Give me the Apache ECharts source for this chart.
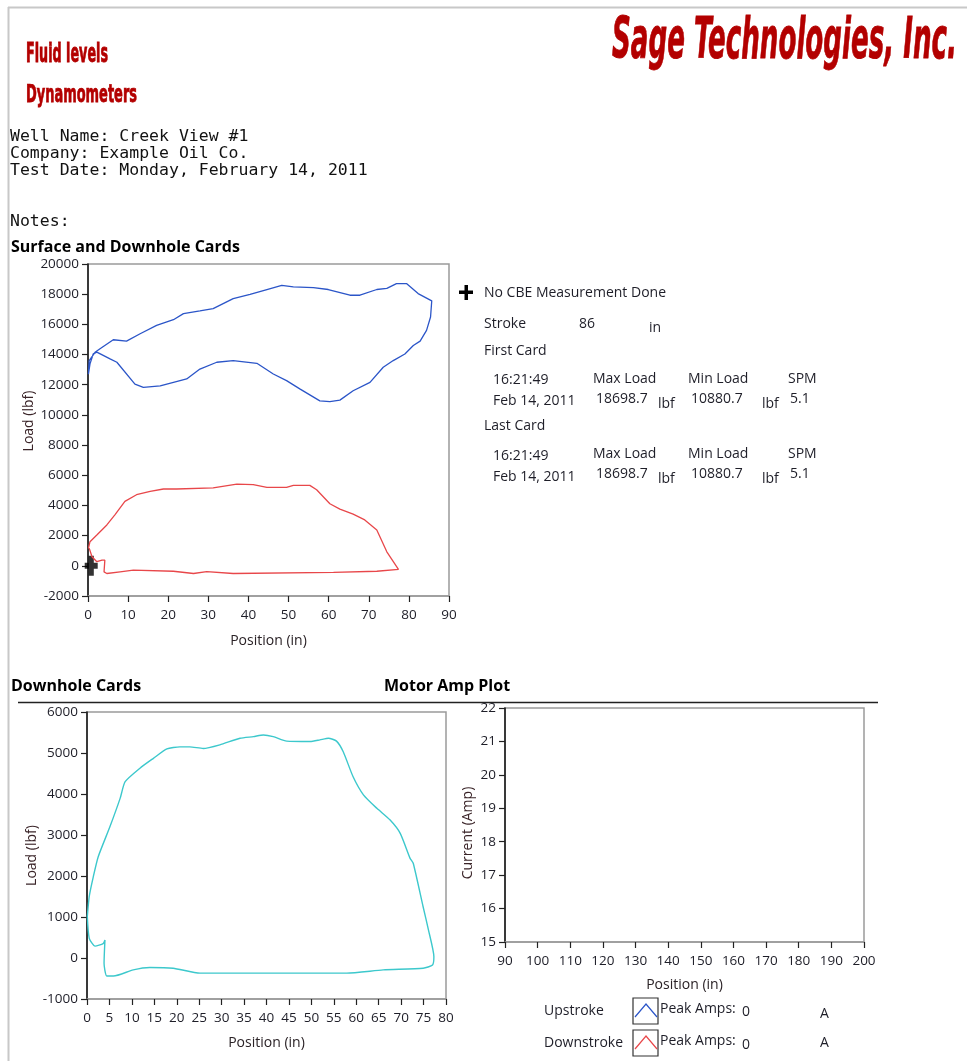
<!DOCTYPE html>
<html><head><meta charset="utf-8">
<script src="https://cdn.jsdelivr.net/npm/echarts@6/dist/echarts.min.js"></script>
<style>html,body{margin:0;padding:0;background:#fff}#c{width:967px;height:1061px}</style>
</head><body><div id="c"></div>
<script>
// ---------- data ----------
const surfaceCard = [[0.1,12700],[0.3,13600],[1.75,14150],[3.0,14380],[6.3,14980],[9.6,14890],[13.0,15380],[17.1,15930],[21.3,16310],[23.8,16710],[27.9,16890],[31.2,17040],[36.2,17710],[40.4,17980],[44.6,18310],[48.3,18580],[51.2,18490],[56.2,18440],[59.9,18310],[65.3,17930],[67.8,17930],[72.0,18310],[74.5,18380],[76.9,18700],[79.4,18700],[82.3,18040],[85.7,17560],[86.1,17640],[85.4,16490],[84.4,15600],[82.8,14890],[81.1,14600],[79.0,14040],[76.1,13600],[73.6,13160],[70.3,12160],[66.1,11600],[62.8,10980],[60.3,10880],[57.8,10930],[52.9,11710],[49.5,12270],[46.2,12710],[42.1,13420],[36.2,13600],[32.1,13490],[27.9,13040],[24.6,12380],[21.3,12160],[18.0,11930],[13.8,11820],[11.7,12040],[7.2,13490],[5.5,13710],[2.2,14160],[1.3,14040],[0.5,13380],[0.1,12700]];
const downholeCardTop = [[0.1,1160],[0.5,1600],[2.2,2040],[4.7,2710],[6.7,3380],[9.2,4270],[12.1,4710],[15.5,4930],[18.8,5090],[22.1,5090],[31.2,5160],[37.1,5420],[41.2,5380],[44.6,5200],[49.5,5200],[51.2,5330],[55.3,5330],[57.0,5040],[60.3,4110],[62.8,3760],[66.1,3420],[69.0,3040],[72.0,2380],[74.5,930],[77.4,-240],[72.0,-360],[61.2,-440],[36.2,-510],[29.6,-380],[26.3,-510],[21.3,-360],[11.3,-290],[8.0,-400],[4.7,-510],[4.0,-400],[4.2,380],[3.5,380],[2.2,270],[1.0,600],[0.3,1160]];
const cbeMarker = [[0.8, 0]];
const downholeCard = [[0.07,1010],[0.5,1500],[1.4,1980],[2.5,2470],[5.1,3200],[7.4,3900],[8.5,4300],[11.8,4630],[14.8,4870],[17.8,5100],[20.7,5150],[22.9,5150],[25.9,5110],[29.6,5200],[34.1,5360],[37.1,5400],[39.3,5440],[41.5,5400],[44.5,5290],[49.7,5280],[51.9,5320],[53.8,5360],[55.6,5290],[57.1,5030],[59.3,4420],[61.6,3980],[64.6,3650],[67.5,3370],[69.8,3040],[72.0,2430],[72.7,2310],[74.9,1250],[76.1,680],[77.3,30],[77.0,-170],[74.9,-250],[66.0,-290],[57.9,-370],[32.6,-370],[25.2,-370],[19.2,-250],[14.0,-230],[10.3,-290],[5.9,-440],[4.4,-440],[3.8,-130],[4.0,440],[3.6,350],[1.8,290],[0.5,480],[0.07,1010]];
const upstrokeAmps = [];
const downstrokeAmps = [];
const surfaceAxisX = [0, 90, 10];
const surfaceAxisY = [-2000, 20000, 2000];
const downholeAxisX = [0, 80, 5];
const downholeAxisY = [-1000, 6000, 1000];
const ampAxisX = [90, 200, 10];
const ampAxisY = [15, 22, 1];
const headerLines = ['Well Name: Creek View #1', 'Company: Example Oil Co.', 'Test Date: Monday, February 14, 2011'];

// ---------- helpers ----------
const FONT = "'Open Sans', 'Noto Sans', sans-serif";
const TXT = '#1e1e28';
const cv = document.createElement('canvas').getContext('2d');
function measure(text, font) { cv.font = font; return cv.measureText(text).width; }
function fitText(text, size, x, yCenter, targetW, capH, color, italic) {
  const f = (italic ? 'italic ' : '') + 'bold ' + size + "px 'Liberation Sans Narrow', 'DejaVu Sans Condensed', 'Liberation Sans', sans-serif";
  const w = measure(text, f);
  return { type: 'text', x: x, y: yCenter, scaleX: targetW / w, scaleY: capH / (0.72 * size),
    style: { text: text, font: f, fill: color, textAlign: 'left', textVerticalAlign: 'middle', stroke: color, lineWidth: 0.6 } };
}
function t(text, x, y, opts) {
  opts = opts || {};
  return { type: 'text', x: x, y: y, style: Object.assign({ text: text, fontFamily: FONT, fontSize: 14, fill: TXT, textAlign: 'left', textVerticalAlign: 'middle' }, opts) };
}
const plain = v => String(v);
function axisX(gi, r, name, gap) {
  return { type: 'value', gridIndex: gi, min: r[0], max: r[1], interval: r[2],
    name: name, nameLocation: 'middle', nameGap: gap,
    nameTextStyle: { fontFamily: FONT, fontSize: 14, color: '#2a2226' },
    axisLine: { show: true, onZero: false, lineStyle: { color: '#9a9a9a', width: 1.5 } },
    axisTick: { show: true, length: 6, lineStyle: { color: '#222', width: 1.2 } },
    axisLabel: { fontFamily: FONT, fontSize: 13.5, color: TXT, margin: 12, formatter: plain },
    splitLine: { show: false } };
}
function axisY(gi, r, name, gap, pad) {
  return { type: 'value', gridIndex: gi, min: r[0], max: r[1], interval: r[2],
    name: name, nameLocation: 'middle', nameGap: gap, nameRotate: 90,
    nameTextStyle: { fontFamily: FONT, fontSize: 14, color: '#3a2428', padding: pad || 0 },
    axisLine: { show: true, onZero: false, lineStyle: { color: '#111', width: 1.5 } },
    axisTick: { show: true, length: 6, lineStyle: { color: '#222', width: 1.2 } },
    axisLabel: { fontFamily: FONT, fontSize: 13.5, color: TXT, margin: 9, formatter: plain },
    splitLine: { show: false } };
}

const graphics = [
  { type: 'line', shape: { x1: 8, y1: 7.5, x2: 967, y2: 7.5 }, style: { stroke: '#c8c8c8', lineWidth: 2 } },
  { type: 'line', shape: { x1: 8.5, y1: 7, x2: 8.5, y2: 1061 }, style: { stroke: '#c8c8c8', lineWidth: 2 } },
  fitText('Fluid levels', 20, 26, 55, 82, 19, '#b30000', false),
  fitText('Dynamometers', 20, 26, 95, 111, 18, '#b30000', false),
  fitText('Sage Technologies, Inc.', 40, 612, 43, 345, 41, '#b30000', true),
  t('Surface and Downhole Cards', 11, 247, { fontWeight: 'bold', fontSize: 16, fill: '#000' }),
  t('Downhole Cards', 11, 686, { fontWeight: 'bold', fontSize: 16, fill: '#000' }),
  t('Motor Amp Plot', 384, 686, { fontWeight: 'bold', fontSize: 16, fill: '#000' }),
  { type: 'line', shape: { x1: 18, y1: 702.5, x2: 878, y2: 702.5 }, style: { stroke: '#222', lineWidth: 1.5 } },
  t('Notes:', 10, 222, { fontFamily: "'DejaVu Sans Mono', monospace", fontSize: 16.5, fill: '#111' }),
  // info panel
  { type: 'rect', shape: { x: 459, y: 290.5, width: 14, height: 3.5 }, style: { fill: '#000' } },
  { type: 'rect', shape: { x: 464.5, y: 285, width: 3.5, height: 15 }, style: { fill: '#000' } },
  t('No CBE Measurement Done', 484, 293),
  t('Stroke', 484, 324), t('86', 579, 324), t('in', 649, 328),
  t('First Card', 484, 351),
  t('16:21:49', 493, 380), t('Feb 14, 2011', 493, 401),
  t('Max Load', 593, 379), t('18698.7', 596, 399), t('lbf', 658, 404),
  t('Min Load', 688, 379), t('10880.7', 691, 399), t('lbf', 762, 404),
  t('SPM', 788, 379), t('5.1', 790, 399),
  t('Last Card', 484, 426),
  t('16:21:49', 493, 456), t('Feb 14, 2011', 493, 477),
  t('Max Load', 593, 454), t('18698.7', 596, 474), t('lbf', 658, 479),
  t('Min Load', 688, 454), t('10880.7', 691, 474), t('lbf', 762, 479),
  t('SPM', 788, 454), t('5.1', 790, 474),
  // legend
  t('Upstroke', 544, 1011), t('Downstroke', 544, 1043),
  { type: 'rect', shape: { x: 633, y: 998, width: 25, height: 26 }, style: { fill: 'none', stroke: '#333', lineWidth: 1.2 } },
  { type: 'polyline', shape: { points: [[635, 1017], [646, 1004], [657, 1017]] }, style: { stroke: '#2b55c8', lineWidth: 1.2, fill: 'none' } },
  { type: 'rect', shape: { x: 633, y: 1030, width: 25, height: 26 }, style: { fill: 'none', stroke: '#333', lineWidth: 1.2 } },
  { type: 'polyline', shape: { points: [[635, 1049], [646, 1036], [657, 1049]] }, style: { stroke: '#e8474a', lineWidth: 1.2, fill: 'none' } },
  t('Peak Amps:', 660, 1009), t('0', 742, 1012), t('A', 820, 1014),
  t('Peak Amps:', 660, 1041), t('0', 742, 1045), t('A', 820, 1043)
];
headerLines.forEach((s, i) => graphics.push(t(s, 10, 137 + i * 17, { fontFamily: "'DejaVu Sans Mono', monospace", fontSize: 16.5, fill: '#111' })));

const chart = echarts.init(document.getElementById('c'), null, { renderer: 'canvas' });
chart.setOption({
  backgroundColor: '#fff',
  animation: false,
  grid: [
    { left: 88, top: 264, width: 361, height: 332, show: true, borderColor: '#9a9a9a', borderWidth: 1.5, backgroundColor: '#fff', outerBoundsMode: 'none' },
    { left: 87, top: 712, width: 359, height: 287, show: true, borderColor: '#9a9a9a', borderWidth: 1.5, backgroundColor: '#fff', outerBoundsMode: 'none' },
    { left: 505, top: 708, width: 359, height: 234, show: true, borderColor: '#9a9a9a', borderWidth: 1.5, backgroundColor: '#fff', outerBoundsMode: 'none' }
  ],
  xAxis: [
    axisX(0, surfaceAxisX, 'Position (in)', 38),
    axisX(1, downholeAxisX, 'Position (in)', 37),
    axisX(2, ampAxisX, 'Position (in)', 36)
  ],
  yAxis: [
    axisY(0, surfaceAxisY, 'Load (lbf)', 52, [0, 0, 0, 18]),
    axisY(1, downholeAxisY, 'Load (lbf)', 45),
    axisY(2, ampAxisY, 'Current (Amp)', 30, [0, 16, 0, 0])
  ],
  graphic: graphics,
  series: [
    { type: 'line', xAxisIndex: 0, yAxisIndex: 0, data: surfaceCard, showSymbol: false, lineStyle: { color: '#2b55c8', width: 1.3 }, silent: true },
    { type: 'line', xAxisIndex: 0, yAxisIndex: 0, data: downholeCardTop, showSymbol: false, lineStyle: { color: '#e8474a', width: 1.3 }, silent: true },
    { type: 'scatter', xAxisIndex: 0, yAxisIndex: 0, data: cbeMarker, symbol: 'path://M3,0 H7 V3.5 H10 V6.5 H7 V10 H3 V6.5 H0 V3.5 H3 Z', symbolSize: [13, 20], itemStyle: { color: '#000' }, silent: true },
    { type: 'line', xAxisIndex: 1, yAxisIndex: 1, data: downholeCard, showSymbol: false, smooth: 0.2, lineStyle: { color: '#3cc8cc', width: 1.4 }, silent: true },
    { type: 'line', xAxisIndex: 2, yAxisIndex: 2, data: upstrokeAmps, showSymbol: false, lineStyle: { color: '#2b55c8' } },
    { type: 'line', xAxisIndex: 2, yAxisIndex: 2, data: downstrokeAmps, showSymbol: false, lineStyle: { color: '#e8474a' } }
  ]
});
</script></body></html>
